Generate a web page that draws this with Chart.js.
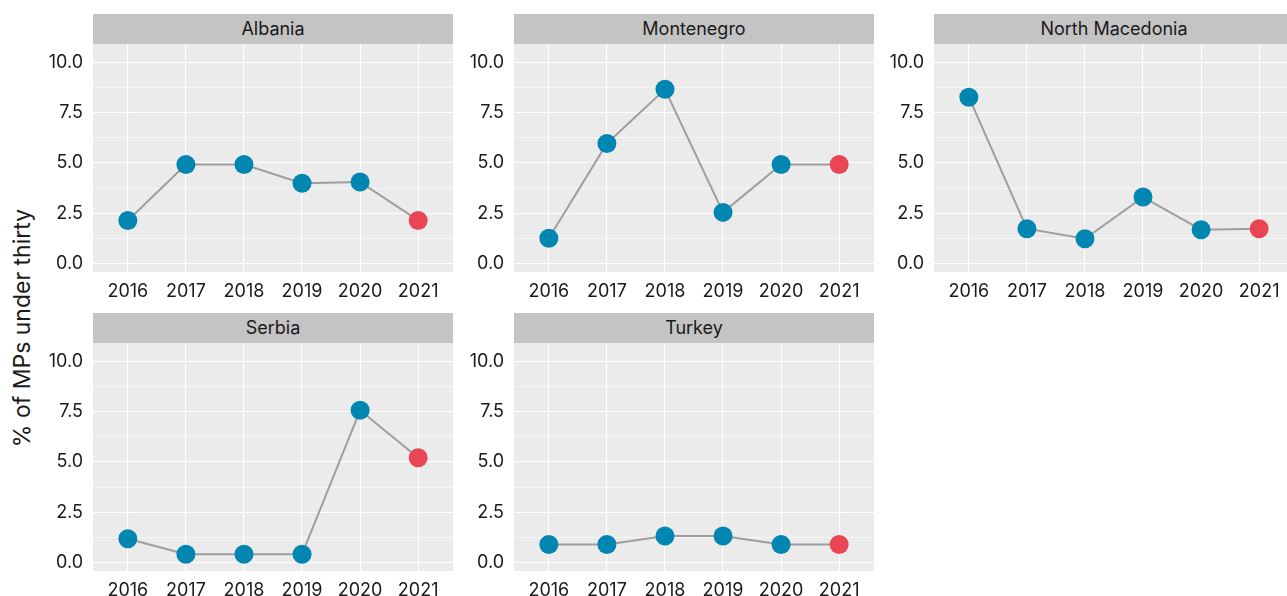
<!DOCTYPE html>
<html>
<head>
<meta charset="utf-8">
<script src="https://cdn.jsdelivr.net/npm/chart.js@4.4.0/dist/chart.umd.min.js"></script>
<style>
body { margin: 0; background: #fff; width: 1287px; height: 596px; overflow: hidden; position: relative; font-family: Inter, "Noto Sans", sans-serif; }
.strip { position: absolute; height: 30px; width: 360px; background: #c4c4c4; color: #1a1a1a; font-size: 18px; text-align: center; line-height: 30px; }
canvas { position: absolute; }
#ytitle { position: absolute; left: 22px; top: 328px; transform: translate(-50%, -50%) rotate(-90deg); white-space: nowrap; font-size: 23px; color: #1a1a1a; }
</style>
</head>
<body>
<div id="ytitle">% of MPs under thirty</div>
<script>
var years = ['2016', '2017', '2018', '2019', '2020', '2021'];
var countries = ['Albania', 'Montenegro', 'North Macedonia', 'Serbia', 'Turkey'];

var albania = [2.15, 4.93, 4.93, 4.0, 4.06, 2.15];
var montenegro = [1.27, 5.97, 8.66, 2.55, 4.93, 4.93];
var northMacedonia = [8.27, 1.74, 1.24, 3.31, 1.69, 1.74];
var serbia = [1.19, 0.42, 0.42, 0.42, 7.57, 5.21];
var turkey = [0.91, 0.91, 1.33, 1.33, 0.91, 0.91];

var yTicks = [0, 2.5, 5, 7.5, 10];

var seriesList = [albania, montenegro, northMacedonia, serbia, turkey];

// panel boxes (plot area, not strip)
var panelLefts = [93, 514, 934];
var panelTops = [44, 343];
var AXIS_W = 70, AXIS_H = 40, PW = 360, PH = 228;

var panelBg = {
    id: 'panelBg',
    beforeDraw: function (chart) {
        var a = chart.chartArea;
        var c = chart.ctx;
        c.save();
        c.fillStyle = '#ebebeb';
        c.fillRect(a.left, a.top, a.right - a.left, a.bottom - a.top);
        c.restore();
    }
};

function makePanel(i) {
    var col = i % 3, row = Math.floor(i / 3);
    var left = panelLefts[col], top = panelTops[row];

    var strip = document.createElement('div');
    strip.className = 'strip';
    strip.style.left = left + 'px';
    strip.style.top = (top - 30) + 'px';
    strip.textContent = countries[i];
    document.body.appendChild(strip);

    var canvas = document.createElement('canvas');
    canvas.width = PW + AXIS_W;
    canvas.height = PH + AXIS_H;
    canvas.style.left = (left - AXIS_W) + 'px';
    canvas.style.top = top + 'px';
    document.body.appendChild(canvas);

    var values = seriesList[i];
    var pts = values.map(function (v, k) { return {x: k, y: v}; });
    var colors = values.map(function (v, k) { return k === values.length - 1 ? '#e84654' : '#0086b0'; });

    new Chart(canvas.getContext('2d'), {
        type: 'line',
        data: {
            datasets: [{
                data: pts,
                borderColor: '#9e9e9e',
                borderWidth: 2,
                pointRadius: 9.5,
                pointBorderWidth: 0,
                pointBackgroundColor: colors,
                tension: 0
            }]
        },
        options: {
            responsive: false,
            animation: false,
            layout: {padding: 0, autoPadding: false},
            plugins: {legend: {display: false}, tooltip: {enabled: false}},
            scales: {
                x: {
                    type: 'linear',
                    min: -0.6,
                    max: 5.6,
                    border: {display: false},
                    grid: {color: '#ffffff', lineWidth: 1.1, drawTicks: false},
                    ticks: {
                        stepSize: 1,
                        includeBounds: false,
                        autoSkip: false,
                        maxRotation: 0,
                        padding: 9,
                        color: '#1a1a1a',
                        font: {family: 'Inter', size: 18},
                        callback: function (v) { return years[v]; }
                    },
                    afterFit: function (s) {
                        s.height = AXIS_H;
                        s.paddingLeft = 0; s.paddingRight = 0;
                    }
                },
                y: {
                    min: -0.41,
                    max: 10.91,
                    border: {display: false},
                    grid: {
                        color: '#ffffff',
                        drawTicks: false,
                        lineWidth: function (ctx) {
                            return yTicks.indexOf(ctx.tick.value) >= 0 ? 1.1 : 0.55;
                        }
                    },
                    ticks: {
                        stepSize: 1.25,
                        includeBounds: false,
                        padding: 10,
                        color: '#1a1a1a',
                        font: {family: 'Inter', size: 18},
                        callback: function (v) { return yTicks.indexOf(v) >= 0 ? v.toFixed(1) : ''; }
                    },
                    afterFit: function (s) {
                        s.width = AXIS_W;
                        s.paddingTop = 0; s.paddingBottom = 0;
                    }
                }
            }
        },
        plugins: [panelBg]
    });
}

for (var i = 0; i < countries.length; i++) {
    makePanel(i);
}
</script>
</body>
</html>
